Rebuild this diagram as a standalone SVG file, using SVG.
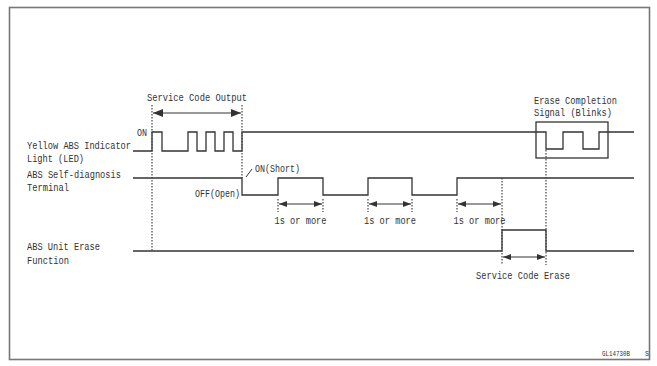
<svg xmlns="http://www.w3.org/2000/svg" width="657" height="366" viewBox="0 0 657 366">
<style>
.t{font-family:"Liberation Mono","DejaVu Sans Mono",monospace;font-size:10.8px;fill:#333}
.sig{fill:none;stroke:#333;stroke-width:1.3}
.dot{fill:none;stroke:#444;stroke-width:1.2;stroke-dasharray:1.5 1.5}
.dim{fill:none;stroke:#333;stroke-width:1}
</style>
<defs>
<marker id="ah" viewBox="0 0 8 6" refX="8" refY="3" markerWidth="8" markerHeight="6" markerUnits="userSpaceOnUse" orient="auto-start-reverse"><path d="M0,0 L8,3 L0,6 Z" fill="#333"/></marker>
<marker id="ahL" viewBox="0 0 10 8" refX="10" refY="4" markerWidth="10" markerHeight="8" markerUnits="userSpaceOnUse" orient="auto-start-reverse"><path d="M0,0 L10,4 L0,8 Z" fill="#333"/></marker>
</defs>
<rect id="frame" x="9.5" y="7.5" width="640" height="352" fill="#fff" stroke="#777" stroke-width="1.6"/>

<g id="led">
<text class="t" x="27" y="148.8" textLength="104" lengthAdjust="spacingAndGlyphs">Yellow ABS Indicator</text>
<text class="t" x="27" y="161.8" textLength="57" lengthAdjust="spacingAndGlyphs">Light (LED)</text>
<text class="t" x="137" y="136.3" textLength="10" lengthAdjust="spacingAndGlyphs">ON</text>
<path class="sig" d="M133,151 H152 V132 H162 V151 H188 V132 H197 V151 H206 V132 H215 V151 H224 V132 H233 V151 H242 V132 H546 V149 H563 V132 H583 V149 H599 V132 H634"/>
</g>

<g id="terminal">
<text class="t" x="27" y="177.8" textLength="94" lengthAdjust="spacingAndGlyphs">ABS Self-diagnosis</text>
<text class="t" x="27" y="190.8" textLength="42" lengthAdjust="spacingAndGlyphs">Terminal</text>
<text class="t" x="195" y="196.8" textLength="45" lengthAdjust="spacingAndGlyphs">OFF(Open)</text>
<text class="t" x="255" y="171.8" textLength="45" lengthAdjust="spacingAndGlyphs">ON(Short)</text>
<path class="dim" d="M246,177 L252,169"/>
<path class="sig" d="M133,178 H242 V195 H278 V178 H323 V195 H368 V178 H412 V195 H457 V178 H634"/>
</g>

<g id="erase">
<text class="t" x="27" y="250.3" textLength="73" lengthAdjust="spacingAndGlyphs">ABS Unit Erase</text>
<text class="t" x="27" y="263.8" textLength="42" lengthAdjust="spacingAndGlyphs">Function</text>
<path class="sig" d="M133,251 H502 V230 H546 V251 H634"/>
</g>

<g id="completion">
<text class="t" x="534" y="103.8" textLength="83" lengthAdjust="spacingAndGlyphs">Erase Completion</text>
<text class="t" x="534" y="116.3" textLength="78" lengthAdjust="spacingAndGlyphs">Signal (Blinks)</text>
<rect x="536" y="122" width="72" height="36" fill="none" stroke="#333" stroke-width="1.3"/>
</g>

<g id="labels">
<text class="t" x="147" y="101.3" textLength="100" lengthAdjust="spacingAndGlyphs">Service Code Output</text>
<text class="t" x="300.5" y="224.3" text-anchor="middle" textLength="52" lengthAdjust="spacingAndGlyphs">1s or more</text>
<text class="t" x="390" y="224.3" text-anchor="middle" textLength="52" lengthAdjust="spacingAndGlyphs">1s or more</text>
<text class="t" x="479.5" y="224.3" text-anchor="middle" textLength="52" lengthAdjust="spacingAndGlyphs">1s or more</text>
<text class="t" x="476" y="278.8" textLength="94" lengthAdjust="spacingAndGlyphs">Service Code Erase</text>
<text class="t" x="602" y="356" style="font-size:6.5px" textLength="28" lengthAdjust="spacingAndGlyphs">GL14730B</text>
<text class="t" x="645" y="356" style="font-size:6.5px">S</text>
</g>

<g id="connectors">
<path class="dot" d="M152,105 V251 M242,105 V178 M502,178 V265 M546,150 V265 M278,199 V212 M323,199 V212 M368,199 V212 M412,199 V212 M457,199 V212"/>
<path class="dim" d="M153,113 H241" marker-start="url(#ahL)" marker-end="url(#ahL)" stroke-width="1.3"/>
<path class="dim" d="M279,204 H322" marker-start="url(#ah)" marker-end="url(#ah)"/>
<path class="dim" d="M369,204 H411" marker-start="url(#ah)" marker-end="url(#ah)"/>
<path class="dim" d="M458,204 H501" marker-start="url(#ah)" marker-end="url(#ah)"/>
<path class="dim" d="M503,257 H545" marker-start="url(#ah)" marker-end="url(#ah)"/>
</g>
</svg>
